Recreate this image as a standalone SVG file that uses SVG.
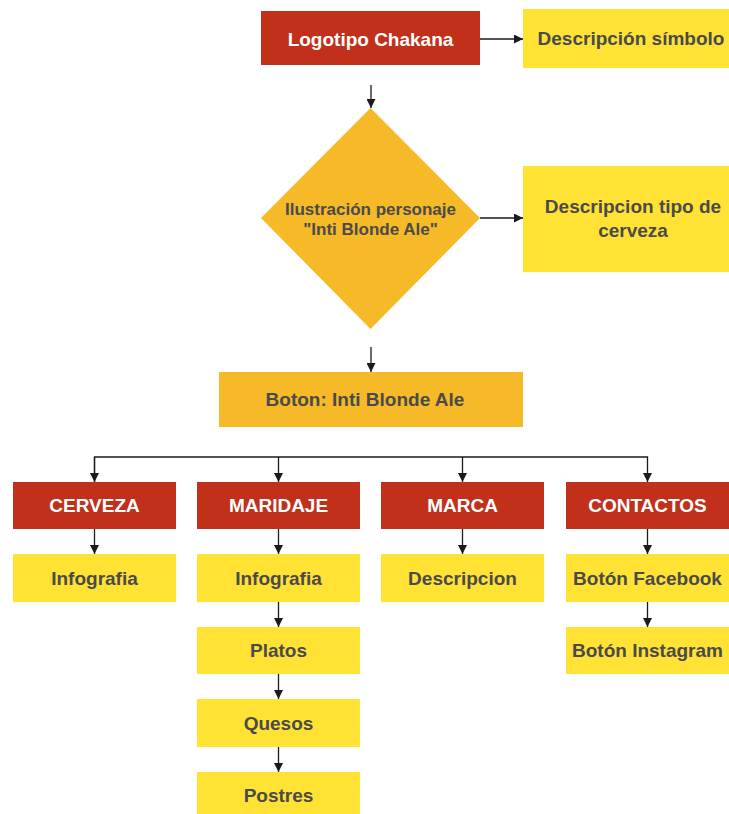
<svg xmlns="http://www.w3.org/2000/svg" width="729" height="814" viewBox="0 0 729 814">
<style>
.red{fill:#C1301A}
.yel{fill:#FFE234}
.org{fill:#F6B927}
text{font-family:"Liberation Sans",Arial,sans-serif;font-weight:bold;font-size:19px;text-anchor:middle}
.w{fill:#FFFFFF}
.d{fill:#4A4A4A}
.c line,.c path{stroke:#1a1a1a;stroke-width:1.3;fill:none}
</style>
<defs>
<marker id="ah" viewBox="0 0 10 10" refX="10" refY="5" markerWidth="9" markerHeight="9" markerUnits="userSpaceOnUse" orient="auto">
<path d="M0,0 L10,5 L0,10 Z" fill="#1a1a1a"/>
</marker>
</defs>
<rect width="729" height="814" fill="#FFFFFF"/>
<g class="c" id="connectors">
<line x1="480" y1="39" x2="523" y2="39" marker-end="url(#ah)"/>
<line x1="371" y1="85" x2="371" y2="108" marker-end="url(#ah)"/>
<line x1="480" y1="218" x2="523" y2="218" marker-end="url(#ah)"/>
<line x1="371" y1="347" x2="371" y2="372" marker-end="url(#ah)"/>
<path d="M94.5,482 V457 H647.5 V482" marker-end="url(#ah)"/>
<line x1="94.5" y1="457" x2="94.5" y2="482" marker-end="url(#ah)"/>
<line x1="278.5" y1="457" x2="278.5" y2="482" marker-end="url(#ah)"/>
<line x1="462.5" y1="457" x2="462.5" y2="482" marker-end="url(#ah)"/>
<line x1="94.5" y1="529" x2="94.5" y2="554" marker-end="url(#ah)"/>
<line x1="278.5" y1="529" x2="278.5" y2="554" marker-end="url(#ah)"/>
<line x1="462.5" y1="529" x2="462.5" y2="554" marker-end="url(#ah)"/>
<line x1="647.5" y1="529" x2="647.5" y2="554" marker-end="url(#ah)"/>
<line x1="278.5" y1="602" x2="278.5" y2="627" marker-end="url(#ah)"/>
<line x1="647.5" y1="602" x2="647.5" y2="627" marker-end="url(#ah)"/>
<line x1="278.5" y1="674" x2="278.5" y2="699" marker-end="url(#ah)"/>
<line x1="278.5" y1="747" x2="278.5" y2="772" marker-end="url(#ah)"/>
</g>
<g id="logotipo"><rect class="red" x="261" y="11" width="219" height="54"/><text class="w" x="370.5" y="45.5">Logotipo Chakana</text></g>
<g id="desc-simbolo"><rect class="yel" x="523" y="9" width="206" height="59"/><text class="d" x="631" y="45">Descripción símbolo</text></g>
<g id="ilustracion"><polygon class="org" points="370.5,108 480,218 370.5,329 261,218"/><text class="d" x="370.5" y="215" style="font-size:17px">Ilustración personaje</text><text class="d" x="370.5" y="235" style="font-size:17px">"Inti Blonde Ale"</text></g>
<g id="desc-tipo"><rect class="yel" x="523" y="166" width="206" height="106"/><text class="d" x="633" y="212.5">Descripcion tipo de</text><text class="d" x="633" y="236.5">cerveza</text></g>
<g id="boton"><rect class="org" x="219" y="372" width="304" height="55"/><text class="d" x="365" y="406">Boton: Inti Blonde Ale</text></g>
<g id="cerveza"><rect class="red" x="13" y="482" width="163" height="47"/><text class="w" x="94.5" y="512">CERVEZA</text></g>
<g id="maridaje"><rect class="red" x="197" y="482" width="163" height="47"/><text class="w" x="278.5" y="512">MARIDAJE</text></g>
<g id="marca"><rect class="red" x="381" y="482" width="163" height="47"/><text class="w" x="462.5" y="512">MARCA</text></g>
<g id="contactos"><rect class="red" x="566" y="482" width="163" height="47"/><text class="w" x="647.5" y="512">CONTACTOS</text></g>
<g id="infografia1"><rect class="yel" x="13" y="554" width="163" height="48"/><text class="d" x="94.5" y="584.5">Infografia</text></g>
<g id="infografia2"><rect class="yel" x="197" y="554" width="163" height="48"/><text class="d" x="278.5" y="584.5">Infografia</text></g>
<g id="descripcion"><rect class="yel" x="381" y="554" width="163" height="48"/><text class="d" x="462.5" y="584.5">Descripcion</text></g>
<g id="facebook"><rect class="yel" x="566" y="554" width="163" height="48"/><text class="d" x="647.5" y="584.5">Botón Facebook</text></g>
<g id="platos"><rect class="yel" x="197" y="627" width="163" height="47"/><text class="d" x="278.5" y="657">Platos</text></g>
<g id="instagram"><rect class="yel" x="566" y="627" width="163" height="47"/><text class="d" x="647.5" y="657">Botón Instagram</text></g>
<g id="quesos"><rect class="yel" x="197" y="699" width="163" height="48"/><text class="d" x="278.5" y="729.5">Quesos</text></g>
<g id="postres"><rect class="yel" x="197" y="772" width="163" height="42"/><text class="d" x="278.5" y="802">Postres</text></g>
</svg>
